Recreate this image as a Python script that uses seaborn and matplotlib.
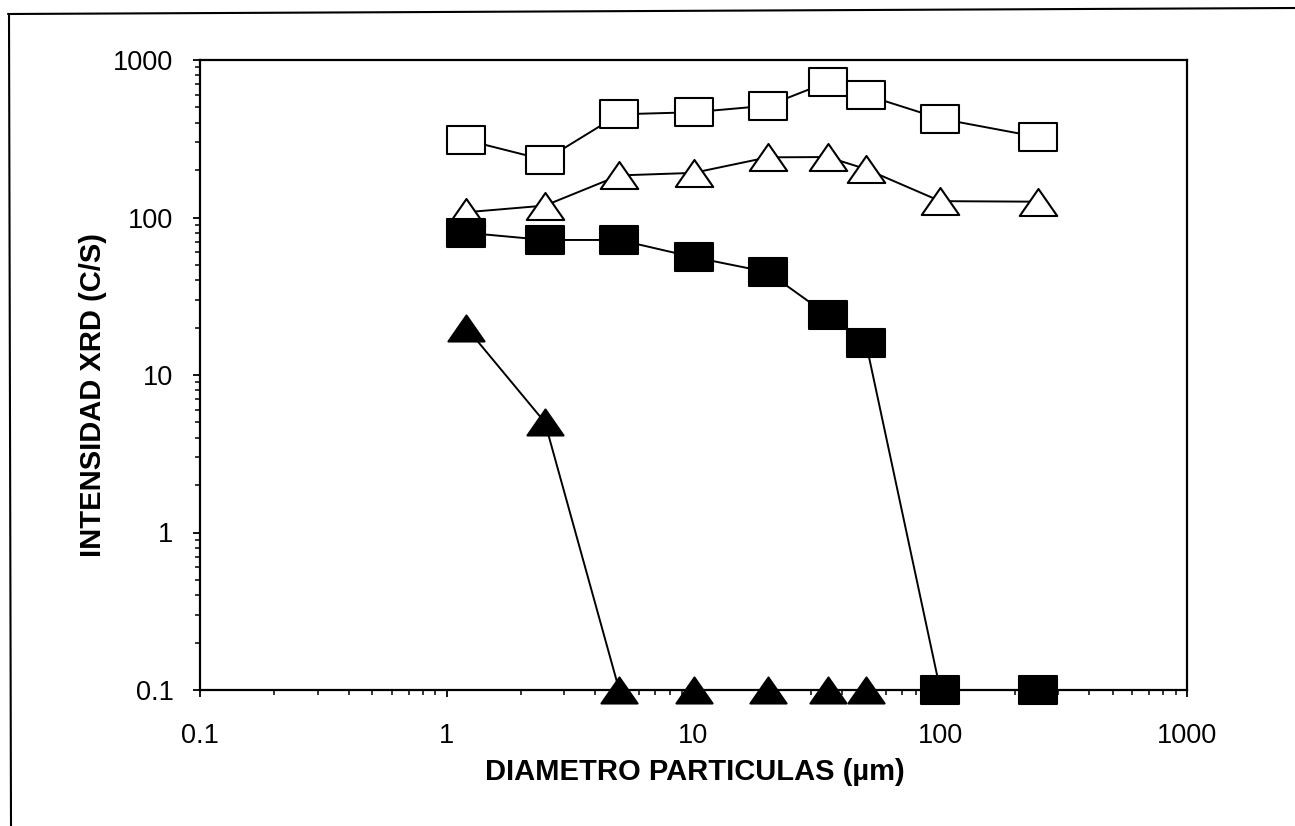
import numpy as np
import pandas as pd
import matplotlib
matplotlib.use("Agg")
import matplotlib.pyplot as plt
import seaborn as sns
from matplotlib.path import Path
from matplotlib.lines import Line2D
from matplotlib.ticker import FixedLocator, FixedFormatter, LogLocator, NullFormatter

# ---------------- data ----------------
diametro = [1.2, 2.5, 5, 10, 20, 35, 50, 100, 250]
sq_open = [310, 232, 452, 466, 513, 724, 599, 424, 324]
tri_open = [108, 119, 185, 192, 241, 242, 203, 127, 126]
sq_fill = [80, 72, 72, 56, 45, 24, 16, 0.1, 0.1]
diametro_tri_fill = [1.2, 2.5, 5, 10, 20, 35, 50]
tri_fill = [20, 5, 0.1, 0.1, 0.1, 0.1, 0.1]

x_ticks = [0.1, 1, 10, 100, 1000]
x_ticklabels = ["0.1", "1", "10", "100", "1000"]
y_ticks = [0.1, 1, 10, 100, 1000]
y_ticklabels = ["0.1", "1", "10", "100", "1000"]
xlabel = "DIAMETRO PARTICULAS (µm)"
ylabel = "INTENSIDAD XRD (C/S)"

# ---------------- style ----------------
sns.set_style("ticks")
plt.rcParams["font.family"] = ["Liberation Sans", "DejaVu Sans"]
plt.rcParams["text.color"] = "black"
plt.rcParams["axes.labelcolor"] = "black"
plt.rcParams["xtick.color"] = "black"
plt.rcParams["ytick.color"] = "black"

fig = plt.figure(figsize=(12.95, 8.26), dpi=100)
ax = fig.add_axes([200 / 1295, 136 / 826, 987 / 1295, 630 / 826])

rect_marker = Path([(-1, -0.76), (1, -0.76), (1, 0.76), (-1, 0.76), (-1, -0.76)],
                   [Path.MOVETO, Path.LINETO, Path.LINETO, Path.LINETO, Path.CLOSEPOLY])
tri_marker = Path([(0, 0.72), (-1, -0.72), (1, -0.72), (0, 0.72)],
                  [Path.MOVETO, Path.LINETO, Path.LINETO, Path.CLOSEPOLY])

common = dict(ax=ax, color="black", linewidth=1.4, markeredgecolor="black",
              markeredgewidth=1.5, clip_on=False, legend=False)

series = [
    (diametro, sq_open, rect_marker, "white", 27),
    (diametro, tri_open, tri_marker, "white", 27),
    (diametro, sq_fill, rect_marker, "black", 27),
    (diametro_tri_fill, tri_fill, tri_marker, "black", 26),
]
for i, (xs, ys, mk, fc, ms) in enumerate(series):
    df = pd.DataFrame({"x": xs, "y": ys})
    sns.lineplot(data=df, x="x", y="y", marker=mk, markerfacecolor=fc,
                 markersize=ms, zorder=3 + i, **common)

ax.set_xscale("log")
ax.set_yscale("log")
ax.set_xlim(0.1, 1000)
ax.set_ylim(0.1, 1000)

ax.xaxis.set_major_locator(FixedLocator(x_ticks))
ax.xaxis.set_major_formatter(FixedFormatter(x_ticklabels))
ax.yaxis.set_major_locator(FixedLocator(y_ticks))
ax.yaxis.set_major_formatter(FixedFormatter(y_ticklabels))
ax.xaxis.set_minor_locator(LogLocator(base=10, subs=np.arange(2, 10)))
ax.yaxis.set_minor_locator(LogLocator(base=10, subs=np.arange(2, 10)))
ax.xaxis.set_minor_formatter(NullFormatter())
ax.yaxis.set_minor_formatter(NullFormatter())

for s in ax.spines.values():
    s.set_visible(True)
    s.set_linewidth(1.6)
    s.set_color("black")

ax.tick_params(which="major", direction="out", length=5, width=1.3, colors="black",
               labelsize=19.5, labelcolor="black")
ax.tick_params(which="minor", direction="out", length=3.5, width=1.1, colors="black")
ax.tick_params(axis="x", which="major", pad=19)
ax.tick_params(axis="y", which="major", pad=14)

ax.set_xlabel(xlabel, fontsize=21, fontweight="bold", color="black")
ax.set_ylabel(ylabel, fontsize=21, fontweight="bold", color="black")
ax.xaxis.set_label_coords(0.5015, -0.108)
ax.yaxis.set_label_coords(-0.094, 0.468)
ax.grid(False)

# outer frame lines (top and left) of the scanned figure
fig.add_artist(Line2D([8 / 1295, 1.0], [1 - 14 / 826, 1 - 8 / 826],
                      transform=fig.transFigure, color="black", linewidth=1.5))
fig.add_artist(Line2D([9 / 1295, 11 / 1295], [1 - 14 / 826, 0.0],
                      transform=fig.transFigure, color="black", linewidth=1.5))

fig.savefig("out.png", dpi=100, facecolor="white")
